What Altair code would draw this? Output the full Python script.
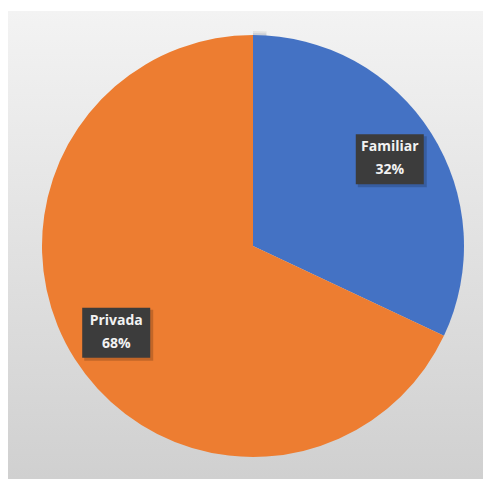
import altair as alt
import pandas as pd

categories = ["Familiar", "Privada"]
values = [32, 68]
colors = ["#4472C4", "#ED7D31"]

CX, CY, R = 253, 246, 211
LABEL_R = 162

df = pd.DataFrame({"cat": categories, "val": values, "order": list(range(len(categories)))})

base = alt.Chart(df)

bg = alt.Chart(pd.DataFrame({"a": [0]})).mark_rect(
    fill=alt.Gradient(
        gradient="linear",
        stops=[alt.GradientStop(color="#f3f3f3", offset=0),
               alt.GradientStop(color="#d0d0d0", offset=1)],
        x1=0, x2=0, y1=0, y2=1,
    )
).encode(x=alt.value(8), x2=alt.value(483), y=alt.value(11), y2=alt.value(479))

shadow = alt.Chart(pd.DataFrame({"a": [1]})).mark_arc(
    radius=R + 6, color="#9a9a9a", opacity=0.18
).encode(theta=alt.Theta("a:Q"), x=alt.value(CX), y=alt.value(CY + 2))
shadow2 = alt.Chart(pd.DataFrame({"a": [1]})).mark_arc(
    radius=R + 3, color="#8a9ab8", opacity=0.25
).encode(theta=alt.Theta("a:Q"), x=alt.value(CX), y=alt.value(CY + 1))

pie = base.mark_arc(radius=R).encode(
    theta=alt.Theta("val:Q", stack=True),
    color=alt.Color("cat:N", scale=alt.Scale(domain=categories, range=colors), legend=None),
    order=alt.Order("order:Q"),
    x=alt.value(CX), y=alt.value(CY),
)

lab = base.transform_joinaggregate(total="sum(val)").transform_window(
    cum="sum(val)", sort=[alt.SortField("order")]
).transform_calculate(
    mid="(datum.cum - datum.val/2) / datum.total * 2 * PI",
    lx=f"{CX} + {LABEL_R} * sin(datum.mid)",
    ly=f"{CY} - {LABEL_R} * cos(datum.mid)",
    pct="format(datum.val / datum.total, '.0%')",
    txt="datum.cat + '\\n' + datum.pct",
    bx1="datum.lx - 34", bx2="datum.lx + 34",
    by1="datum.ly - 25", by2="datum.ly + 25",
    sx1="datum.lx - 32", sx2="datum.lx + 37",
    sy1="datum.ly - 23", sy2="datum.ly + 28",
)

boxshadow = lab.mark_rect(color="#000000", opacity=0.18).encode(
    x=alt.X("sx1:Q", scale=None), x2="sx2:Q",
    y=alt.Y("sy1:Q", scale=None), y2="sy2:Q",
)
box = lab.mark_rect(color="#3c3c3c").encode(
    x=alt.X("bx1:Q", scale=None), x2="bx2:Q",
    y=alt.Y("by1:Q", scale=None), y2="by2:Q",
)
text = lab.mark_text(
    font="Open Sans", fontWeight="bold", fontSize=14, color="#f2f2f2",
    lineBreak="\n", lineHeight=23, align="center", baseline="middle", dy=-12,
).encode(
    x=alt.X("lx:Q", scale=None), y=alt.Y("ly:Q", scale=None), text="txt:N",
)

chart = alt.layer(bg, shadow, shadow2, pie, boxshadow, box, text).properties(
    width=483, height=479, padding=0, autosize="none", background="white"
).configure_view(stroke=None)

chart.save("out.html", embed_options={"renderer": "svg", "actions": False})
